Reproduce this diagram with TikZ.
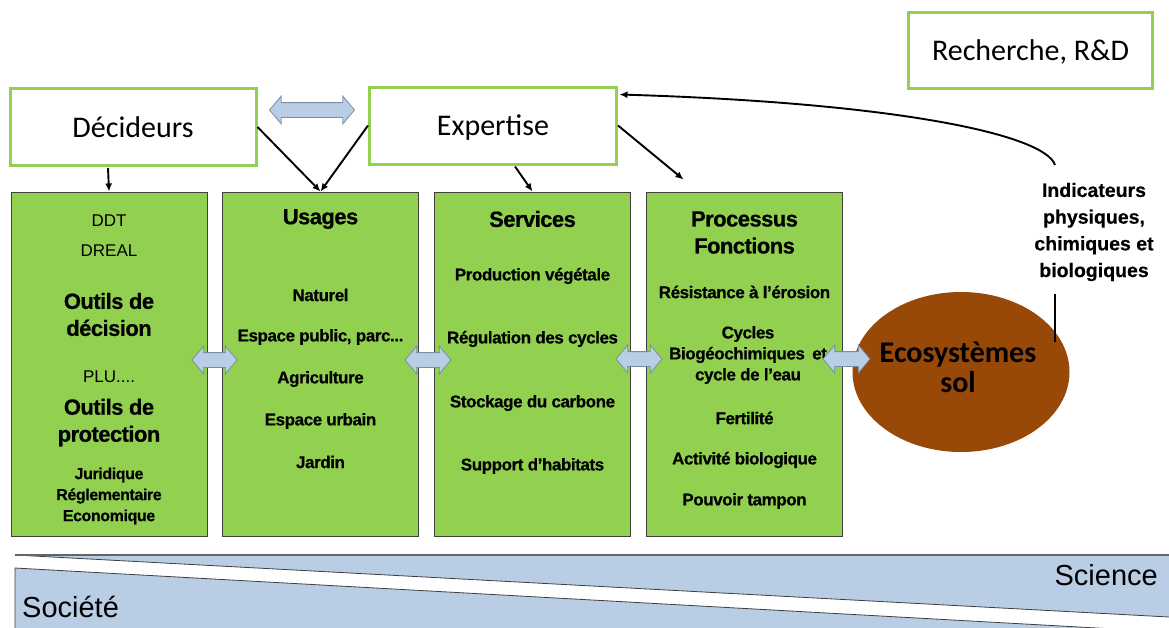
\documentclass[tikz,border=0pt]{standalone}
\usepackage{fontspec}
\setmainfont{Liberation Sans}
\newfontfamily\carl{Carlito}
\newfontfamily\tight[LetterSpace=-2.5, BoldFeatures={FakeBold=0.6}]{Liberation Sans}
\newfontfamily\indf[BoldFeatures={FakeBold=0.4}]{Liberation Sans}
\usetikzlibrary{shapes.geometric,shapes.arrows,arrows.meta,calc}
\definecolor{grn}{HTML}{92D050}
\definecolor{brn}{HTML}{984807}
\definecolor{lblue}{HTML}{B9CDE5}
\definecolor{agray}{HTML}{7A8CA3}
\definecolor{bord}{HTML}{3F3F3F}
\tikzset{
  topbox/.style={draw=grn, line width=3pt, fill=white, minimum height=77pt, inner sep=0pt,
    text height=21pt, text depth=1pt, font=\carl\fontsize{30}{32}\selectfont},
  gbox/.style={draw=bord, line width=1pt, fill=grn, minimum width=196pt, minimum height=344pt, inner sep=0pt},
  head/.style={inner sep=0pt, align=center, font=\tight\bfseries\fontsize{22}{27}\selectfont},
  item/.style={inner sep=0pt, align=center, font=\tight\bfseries\fontsize{17}{21}\selectfont},
  reg/.style={inner sep=0pt, align=center, font=\fontsize{17}{21}\selectfont},
  dbl/.style={double arrow, draw=agray, fill=lblue, line width=0.8pt, inner sep=0pt,
    text height=7pt, text depth=7pt, text width=0pt,
    minimum height=#1, minimum width=0pt, double arrow head extend=6.5pt, double arrow tip angle=100},
  conn/.style={line width=1.9pt, -{Latex[length=8pt,width=7pt]}},
  band/.style={inner sep=0pt, font=\fontsize{29}{31}\selectfont}
}
\begin{document}
\begin{tikzpicture}[x=1pt,y=-1pt]
\useasboundingbox (0,0) rectangle (1169,627);
% top boxes
\node[topbox, minimum width=246pt] (dec) at (133,127) {Décideurs};
\node[topbox, minimum width=247pt] (exp) at (493,125.5) {Expertise};
\node[topbox, minimum width=244pt, minimum height=76pt] (rd) at (1030.5,50.5) {Recherche, R\&D};
\node[dbl=85pt] (adx) at (312,110) {};
% green boxes
\node[gbox] (b1) at (109,364) {};
\node[gbox] (b2) at (320.5,364) {};
\node[gbox] (b3) at (532.5,364) {};
\node[gbox] (b4) at (744.5,364) {};
% box 1
\node[reg] (t11) at (109,221) {DDT};
\node[reg] (t12) at (109,251) {DREAL};
\node[head] (t13) at (109,314.5) {Outils de\\décision};
\node[reg] (t14) at (109,377) {PLU....};
\node[head] (t15) at (109,422.5) {Outils de\\protection};
\node[item, font=\tight\bfseries\fontsize{16}{21}\selectfont] (t16) at (109,496) {Juridique\\Réglementaire\\Economique};
% box 2
\node[head] (t21) at (320.5,219) {Usages};
\node[item] (t22) at (320.5,295) {Naturel};
\node[item] (t23) at (320.5,337) {Espace public, parc...};
\node[item] (t24) at (320.5,379) {Agriculture};
\node[item] (t25) at (320.5,421) {Espace  urbain};
\node[item] (t26) at (320.5,462) {Jardin};
% box 3
\node[head] (t31) at (532.5,219) {Services};
\node[item] (t32) at (532.5,276) {Production végétale};
\node[item] (t33) at (532.5,339) {Régulation des cycles};
\node[item] (t34) at (532.5,403) {Stockage du carbone};
\node[item] (t35) at (532.5,466) {Support d’habitats};
% box 4
\node[head] (t41) at (744.5,232.5) {Processus\\Fonctions};
\node[item] (t42) at (744.5,292) {Résistance à l’érosion};
\node[item] (t43) at (748,355) {Cycles\\Biogéochimiques\hspace{3pt} et\\cycle de l’eau};
\node[item] (t44) at (744.5,418) {Fertilité};
\node[item] (t45) at (744.5,460) {Activité biologique};
\node[item] (t46) at (744.5,501) {Pouvoir tampon};
% ellipse
\node[ellipse, fill=brn, minimum width=217pt, minimum height=160pt, inner sep=0pt] (eco) at (961,372) {};
\node[inner sep=0pt, align=center, font=\carl\bfseries\fontsize{30}{30}\selectfont] (ecot) at (958,367) {Ecosystèmes\\sol};
% indicateurs
\node[inner sep=0pt, align=center, font=\indf\bfseries\fontsize{19.5}{26.7}\selectfont] (ind) at (1094,232) {Indicateurs\\physiques,\\chimiques et\\biologiques};
% horizontal double arrows
\node[dbl=45pt] (a1) at (214.5,360) {};
\node[dbl=46pt] (a2) at (428,360) {};
\node[dbl=46pt] (a3) at (639,359) {};
\node[dbl=47pt] (a4) at (846.5,359) {};
% connectors
\draw[conn] ($(dec.south)+(-25,1)$) -- (b1.north);
\draw[conn] (dec.east) -- (b2.north);
\draw[conn] (exp.west) -- (b2.north);
\draw[conn] ($(exp.south)+(22,1)$) -- (b3.north);
\coordinate (p4) at ($(b4.north)+(-61,-12)$);
\draw[conn] (exp.east) -- (p4);
\coordinate (cs) at (1055,165);
\draw[conn] (cs) .. controls (1045,135) and (900,103) .. ($(exp.north east)+(1.5,9)$);
\coordinate (v1) at (1055,294);
\coordinate (v2) at (1055,342);
\draw[line width=1.9pt] (v1) -- (v2);
% bottom band
\fill[lblue] (15,555) -- (1169,555) -- (1169,617) -- cycle;
\draw[bord, line width=0.8pt] (15,555) -- (1169,617);
\draw[bord!80, line width=2pt] (15,555) -- (1169,555);
\filldraw[fill=lblue, draw=bord, line width=0.8pt] (15,640) -- (15,568) -- (1169,632) -- (1169,640);
\node[band, anchor=east] (sci) at (1158,575) {Science};
\node[band, anchor=west] (soc) at (22,607) {Société};
\end{tikzpicture}
\end{document}
